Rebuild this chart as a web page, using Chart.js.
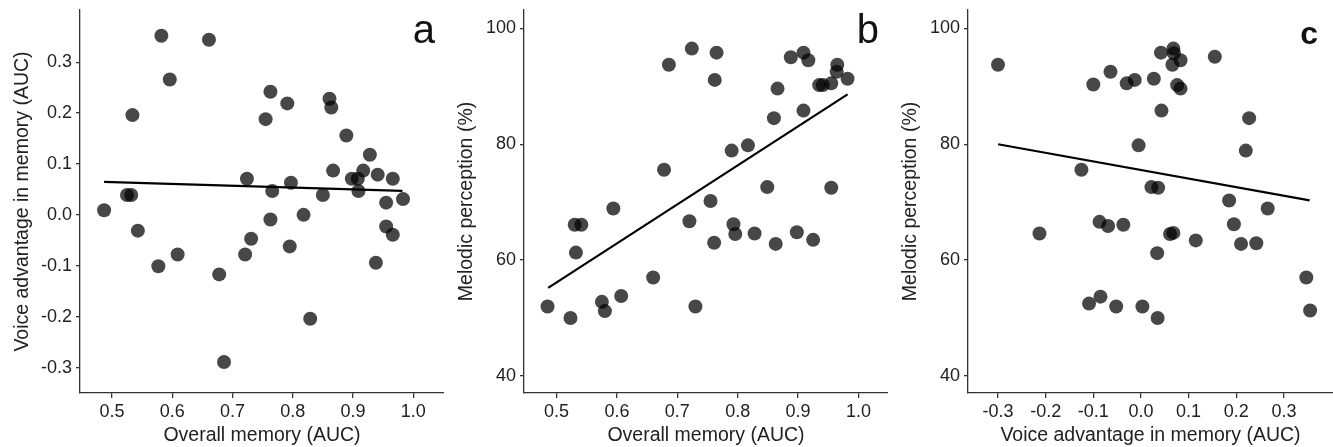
<!DOCTYPE html>
<html>
<head>
<meta charset="utf-8">
<script src="https://cdn.jsdelivr.net/npm/chart.js@4.4.0/dist/chart.umd.min.js"></script>
<style>
  body { margin: 0; background: #fff; }
  .row { display: flex; width: 1333px; height: 447px; }
</style>
</head>
<body>
<div class="row">
  <canvas id="chartA" width="444" height="447"></canvas>
  <canvas id="chartB" width="444" height="447"></canvas>
  <canvas id="chartC" width="445" height="447"></canvas>
</div>
<script>
// 数据: 每个被试的总体记忆 / 声音优势 / 旋律感知
const overallMemoryA = [0.582, 0.661, 0.596, 0.534, 0.763, 0.755, 0.791, 0.861, 0.864, 0.889, 0.928,
  0.867, 0.898, 0.908, 0.917, 0.941, 0.966, 0.909, 0.724, 0.766, 0.797, 0.850, 0.983, 0.955,
  0.525, 0.532, 0.487, 0.818, 0.763, 0.543, 0.955, 0.966, 0.731, 0.609, 0.721, 0.795, 0.577,
  0.938, 0.678, 0.829, 0.686];
const voiceAdvA = [0.352, 0.344, 0.266, 0.196, 0.242, 0.188, 0.219, 0.228, 0.211, 0.156, 0.118,
  0.087, 0.071, 0.071, 0.087, 0.079, 0.071, 0.047, 0.071, 0.047, 0.063, 0.039, 0.031, 0.024,
  0.039, 0.039, 0.009, 0.000, -0.009, -0.031, -0.023, -0.039, -0.047, -0.078, -0.078, -0.062, -0.101,
  -0.094, -0.117, -0.204, -0.289];
const fitA = [[0.487, 0.065], [0.982, 0.047]];

const overallMemoryB = [0.724, 0.765, 0.686, 0.762, 0.888, 0.909, 0.917, 0.965, 0.964, 0.935, 0.941,
  0.955, 0.982, 0.866, 0.909, 0.860, 0.817, 0.790, 0.678, 0.849, 0.955, 0.755, 0.594, 0.530,
  0.541, 0.720, 0.793, 0.796, 0.828, 0.898, 0.761, 0.863, 0.925, 0.532, 0.660, 0.607, 0.575,
  0.580, 0.485, 0.730, 0.523];
const melodicB = [96.5, 95.8, 93.7, 91.1, 95.0, 95.8, 94.5, 93.7, 92.5, 90.2, 90.2,
  90.5, 91.3, 89.6, 85.8, 84.5, 79.8, 78.9, 75.6, 72.6, 72.5, 70.2, 68.9, 66.1,
  66.1, 66.7, 66.2, 64.5, 64.6, 64.8, 63.0, 62.8, 63.5, 61.3, 57.0, 53.8, 52.8,
  51.2, 52.0, 52.0, 50.0];
const fitB = [[0.486, 55.2], [0.982, 88.6]];

const voiceAdvC = [-0.300, -0.213, -0.125, -0.100, -0.109, -0.085, -0.087, -0.069, -0.064, -0.052, -0.037,
  -0.030, -0.013, -0.005, 0.003, 0.027, 0.022, 0.036, 0.034, 0.035, 0.043, 0.042, 0.068,
  0.069, 0.066, 0.083, 0.076, 0.083, 0.061, 0.068, 0.115, 0.155, 0.185, 0.195, 0.210,
  0.220, 0.227, 0.242, 0.266, 0.347, 0.355];
const melodicC = [93.7, 64.6, 75.6, 90.3, 52.5, 53.7, 66.6, 65.9, 92.5, 52.0, 66.1,
  90.5, 91.1, 79.8, 52.0, 91.3, 72.6, 72.5, 61.2, 50.0, 85.8, 95.8, 96.5,
  95.7, 93.7, 94.5, 90.2, 89.6, 64.5, 64.7, 63.4, 95.1, 70.3, 66.2, 62.8,
  78.9, 84.5, 62.9, 68.9, 57.0, 51.3];
const fitC = [[-0.300, 80.0], [0.354, 70.3]];

// 刻度
const memoryTicks = [0.5, 0.6, 0.7, 0.8, 0.9, 1.0];
const voiceTicksY = [-0.3, -0.2, -0.1, 0.0, 0.1, 0.2, 0.3];
const voiceTicksX = [-0.3, -0.2, -0.1, 0.0, 0.1, 0.2, 0.3];
const melodicTicks = [40, 60, 80, 100];

const FONT = '"Liberation Sans", Arial, sans-serif';

// 右上角的面板字母
const panelLetter = {
  id: 'panelLetter',
  afterDraw(chart, args, opts) {
    const ctx = chart.ctx;
    ctx.save();
    ctx.font = opts.font + ' ' + FONT;
    ctx.fillStyle = '#111';
    ctx.textAlign = 'right';
    ctx.textBaseline = 'alphabetic';
    ctx.fillText(opts.text, chart.chartArea.right - opts.dx, opts.y);
    ctx.restore();
  }
};

function toPoints(xs, ys) {
  return xs.map((x, i) => ({ x: x, y: ys[i] }));
}

function axis(title, ticks, min, max, isX, fmt) {
  return {
    type: 'linear',
    min: min,
    max: max,
    offset: false,
    grid: { drawOnChartArea: false, drawTicks: true, tickLength: isX ? 5 : 4, tickColor: '#333', lineWidth: 1.3 },
    border: { display: true, color: '#333', width: 1.3 },
    ticks: {
      color: '#222',
      padding: isX ? 3 : 4,
      font: { family: FONT, size: 18 },
      callback: v => fmt(v),
      maxRotation: 0
    },
    afterBuildTicks: scale => { scale.ticks = ticks.map(v => ({ value: v })); },
    afterFit: scale => {
      if (isX) scale.height = 54; else scale.width = 80;
      // 不要为边缘刻度标签留白
      scale.paddingLeft = 0;
      scale.paddingRight = 0;
      scale.paddingTop = 0;
      scale.paddingBottom = 0;
    },
    title: {
      display: true,
      text: title,
      color: '#222',
      font: { family: FONT, size: 19.5 },
      padding: isX ? { top: 0, bottom: 0 } : { top: 11, bottom: 0 }
    }
  };
}

function makeChart(id, pts, fit, xAxis, yAxis, letter) {
  new Chart(document.getElementById(id), {
    type: 'scatter',
    data: {
      datasets: [
        {
          data: pts,
          backgroundColor: 'rgba(0, 0, 0, 0.72)',
          borderWidth: 0,
          pointRadius: 7,
          pointHoverRadius: 7
        },
        {
          data: fit.map(p => ({ x: p[0], y: p[1] })),
          showLine: true,
          borderColor: '#000',
          borderWidth: 2.2,
          pointRadius: 0
        }
      ]
    },
    options: {
      responsive: false,
      animation: false,
      layout: { autoPadding: false, padding: { top: 10, right: 0, left: 0, bottom: 0 } },
      plugins: {
        legend: { display: false },
        tooltip: { enabled: false },
        panelLetter: letter
      },
      scales: { x: xAxis, y: yAxis }
    },
    plugins: [panelLetter]
  });
}

const f1 = v => v.toFixed(1);
const f0 = v => String(v);

makeChart('chartA', toPoints(overallMemoryA, voiceAdvA), fitA,
  axis('Overall memory (AUC)', memoryTicks, 0.447, 1.051, true, f1),
  axis('Voice advantage in memory (AUC)', voiceTicksY, -0.35, 0.4025, false, f1),
  { text: 'a', font: '40px', dx: 9, y: 43 });

makeChart('chartB', toPoints(overallMemoryB, melodicB), fitB,
  axis('Overall memory (AUC)', memoryTicks, 0.446, 1.049, true, f1),
  axis('Melodic perception (%)', melodicTicks, 37.07, 103.16, false, f0),
  { text: 'b', font: '40px', dx: 9, y: 43 });

makeChart('chartC', toPoints(voiceAdvC, melodicC), fitC,
  axis('Voice advantage in memory (AUC)', voiceTicksX, -0.363, 0.403, true, f1),
  axis('Melodic perception (%)', melodicTicks, 37.07, 103.16, false, f0),
  { text: 'c', font: 'bold 32px', dx: 15, y: 44 });
</script>
</body>
</html>
